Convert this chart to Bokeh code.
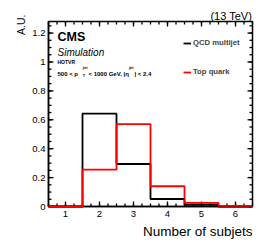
import math
from bokeh.plotting import figure
from bokeh.models import (Label, Legend, LegendItem, FixedTicker,
                          PrintfTickFormatter, Range1d)
from bokeh.embed import file_html
from bokeh.resources import INLINE

# ---- data ----
bin_edges = [0.5, 1.5, 2.5, 3.5, 4.5, 5.5, 6.5]
qcd_values = [0.0, 0.642, 0.294, 0.052, 0.012, 0.0]
top_values = [0.0, 0.255, 0.570, 0.140, 0.025, 0.005]
x_ticks = [1, 2, 3, 4, 5, 6]
x_minor = [0.5 + 0.25 * i for i in range(25)]
y_ticks = [0, 0.2, 0.4, 0.6, 0.8, 1.0, 1.2]
y_minor = [0.05 * i for i in range(26)]
x_title = "Number of subjets"
y_title = "A.U."
series_labels = ["QCD multijet", "Top quark"]

FONT = "Liberation Sans"
W, H = 266, 244
BL, BR, BT, BB = 48, 14, 21, 38
XMIN, XMAX, YMIN, YMAX = 0.5, 6.5, 0.0, 1.28

p = figure(width=W, height=H, x_range=Range1d(XMIN, XMAX), y_range=Range1d(YMIN, YMAX),
           output_backend="svg", toolbar_location=None,
           min_border_left=BL, min_border_right=BR, min_border_top=BT, min_border_bottom=BB)
p.grid.visible = False
p.outline_line_color = "black"
p.outline_line_width = 1.5
p.background_fill_color = None
p.border_fill_color = None

# page pixel -> data helpers (figure at the page origin)
FL, FT = BL, BT
FW, FH = W - BL - BR, H - BT - BB
FB = FT + FH
PX_X = (XMAX - XMIN) / FW
PX_Y = (YMAX - YMIN) / FH
def dx(px):
    return XMIN + (px - FL) * PX_X
def dy(py):
    return YMIN + (FB - py) * PX_Y

def style_axis(ax):
    ax.axis_line_color = "black"
    ax.axis_line_width = 1.5
    ax.major_tick_in = 0
    ax.major_tick_out = 0
    ax.minor_tick_in = 0
    ax.minor_tick_out = 0
    ax.major_tick_line_color = None
    ax.minor_tick_line_color = None
    ax.major_label_text_font = FONT
    ax.major_label_text_color = "black"
    ax.major_label_text_font_size = "9.5px"

xa = p.xaxis[0]
xa.ticker = FixedTicker(ticks=x_ticks, minor_ticks=x_minor)
xa.formatter = PrintfTickFormatter(format="%g")
style_axis(xa)
xa.major_label_standoff = 4

ya = p.yaxis[0]
ya.ticker = FixedTicker(ticks=y_ticks, minor_ticks=y_minor)
ya.formatter = PrintfTickFormatter(format="%g")
style_axis(ya)
ya.major_label_standoff = 3

# inward ROOT-style ticks on all four sides, derived from the tick lists
MAJ, MIN = 5.0, 3.0
def xticks_seg(vals, length):
    xs = list(vals) + list(vals)
    y0 = [YMIN] * len(vals) + [YMAX] * len(vals)
    y1 = [YMIN + length * PX_Y] * len(vals) + [YMAX - length * PX_Y] * len(vals)
    p.segment(x0=xs, y0=y0, x1=list(xs), y1=y1, line_color="black", line_width=1.3,
              level="overlay")
def yticks_seg(vals, length):
    ys = list(vals) + list(vals)
    x0 = [XMIN] * len(vals) + [XMAX] * len(vals)
    x1 = [XMIN + length * PX_X] * len(vals) + [XMAX - length * PX_X] * len(vals)
    p.segment(x0=x0, y0=ys, x1=x1, y1=list(ys), line_color="black", line_width=1.3,
              level="overlay")
xticks_seg(x_ticks, MAJ)
xticks_seg(x_minor, MIN)
yticks_seg(y_ticks, MAJ)
yticks_seg(y_minor, MIN)

# histograms
r_qcd = p.step(x=bin_edges, y=qcd_values + [qcd_values[-1]], mode="after",
               line_color="black", line_width=1.8, level="overlay")
r_top = p.step(x=bin_edges, y=top_values + [top_values[-1]], mode="after",
               line_color="#ff0000", line_width=1.8, level="overlay")

legend = Legend(items=[LegendItem(label=series_labels[0], renderers=[r_qcd]),
                       LegendItem(label=series_labels[1], renderers=[r_top])],
                location=(135, 130), padding=0, margin=0, spacing=20,
                glyph_width=8, glyph_height=8, label_height=8, label_standoff=2,
                label_text_font=FONT, label_text_font_size="7.7px",
                label_text_font_style="bold", label_text_baseline="middle",
                border_line_alpha=0, background_fill_alpha=0)
p.add_layout(legend)

def lab(text, px, py, size, style="normal", align="left", baseline="alphabetic",
        angle=0.0, place=None):
    l = Label(x=dx(px), y=dy(py), text=text, text_font=FONT,
              text_font_size=f"{size}px", text_font_style=style,
              text_align=align, text_baseline=baseline, angle=angle,
              text_color="black")
    if place is None:
        p.add_layout(l)
    else:
        p.add_layout(l, place)

lab("(13 TeV)", 251.5, 15.5, 11, align="right", place="above")
lab(y_title, 20.5, 34.5, 10.5, align="left", angle=math.pi / 2, place="left")
lab(x_title, 252, 230.5, 13.5, align="right", place="below")
lab("CMS", 57, 36, 12.5, style="bold")
lab("Simulation", 57, 51.5, 10, style="italic")
lab("HOTVR", 57, 61, 5, style="bold")
lab("500 < p", 57, 73.3, 6, style="bold")
lab("T", 82.3, 75.3, 4, style="bold")
lab("jet", 82.3, 67, 4, style="bold")
lab("< 1000 GeV, |\u03b7", 88, 73.3, 6, style="bold")
lab("jet", 128.5, 67, 4, style="bold")
lab("| < 2.4", 134, 73.3, 6, style="bold")

open("out.html", "w").write(file_html(p, INLINE))
